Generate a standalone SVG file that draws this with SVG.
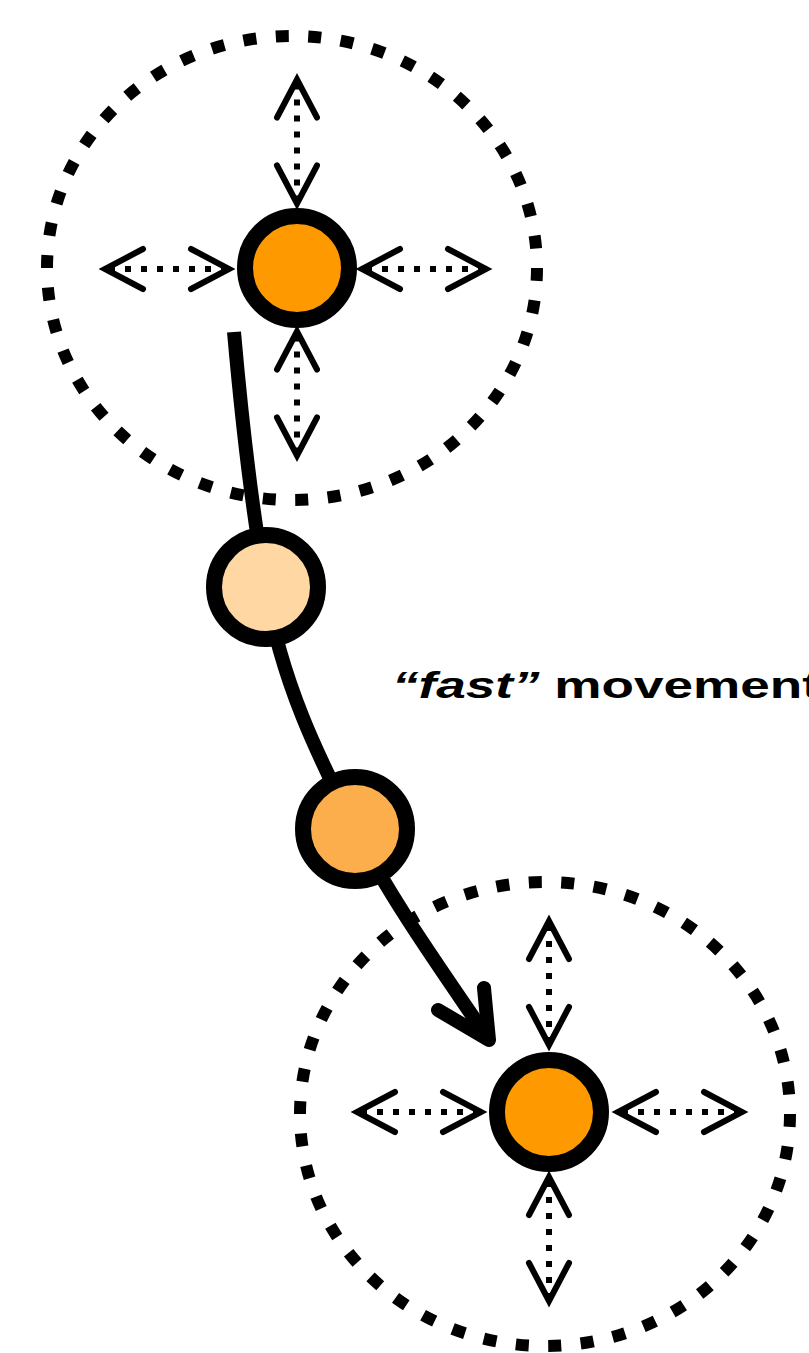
<svg xmlns="http://www.w3.org/2000/svg" xmlns:xlink="http://www.w3.org/1999/xlink" width="809" height="1353" viewBox="0 0 809 1353">
  <style>
    .range { fill: none; stroke: #000; stroke-width: 12; stroke-dasharray: 0.4 0.6; }
    .node { stroke: #000; stroke-width: 16; }
    .track { fill: none; stroke: #000; stroke-width: 14; }
    .chev { fill: none; stroke: #000; stroke-width: 6; stroke-linejoin: miter; stroke-linecap: round; }
    .dots { stroke: #000; stroke-width: 6; stroke-dasharray: 6 10; }
    .label { font-family: "Liberation Sans", Arial, sans-serif; font-weight: bold; font-size: 37px; fill: #000; }
  </style>
  <defs>
    <!-- double-headed dotted arrow, horizontal, centred on the origin -->
    <g id="darrow">
      <line class="dots" x1="-58" y1="0" x2="58" y2="0"/>
      <polyline class="chev" points="-24,-20 -62,0 -24,20"/>
      <polyline class="chev" points="24,-20 62,0 24,20"/>
    </g>
  </defs>
  <rect width="809" height="1353" fill="#fff"/>

  <!-- neighbourhood boundaries -->
  <ellipse id="range-start" class="range" cx="292" cy="268" rx="245" ry="232" pathLength="46"/>
  <ellipse id="range-end" class="range" cx="545" cy="1114" rx="245" ry="232" pathLength="46"/>

  <!-- trajectory -->
  <g id="connectors">
    <path class="track" d="M234,332 C240,400 250,500 266,587 C280,680 320,760 355,829 C390,898 440,968 489,1040"/>
    <polyline class="track" points="484,988 489,1040 438,1010" stroke-linecap="round" stroke-linejoin="round"/>
  </g>

  <!-- start position with its local moves -->
  <g id="node-start">
    <use xlink:href="#darrow" transform="translate(167,269)"/>
    <use xlink:href="#darrow" transform="translate(424,269)"/>
    <use xlink:href="#darrow" transform="translate(297,141.5) rotate(90)"/>
    <use xlink:href="#darrow" transform="translate(297,393.5) rotate(90)"/>
    <circle class="node" cx="297" cy="268" r="52" fill="#FF9900"/>
  </g>

  <g id="node-step1">
    <circle class="node" cx="266" cy="587" r="52" fill="#FFD7A3"/>
  </g>

  <g id="node-step2">
    <circle class="node" cx="355" cy="829" r="52" fill="#FBAE4B"/>
  </g>

  <!-- end position with its local moves -->
  <g id="node-end">
    <use xlink:href="#darrow" transform="translate(419,1112)"/>
    <use xlink:href="#darrow" transform="translate(680,1112)"/>
    <use xlink:href="#darrow" transform="translate(549,983) rotate(90)"/>
    <use xlink:href="#darrow" transform="translate(549,1239) rotate(90)"/>
    <circle class="node" cx="549" cy="1112" r="52" fill="#FF9900"/>
  </g>

  <g id="label">
    <text class="label" x="392" y="698" textLength="428" lengthAdjust="spacingAndGlyphs"><tspan font-style="italic">“fast”</tspan> movement</text>
  </g>
</svg>
